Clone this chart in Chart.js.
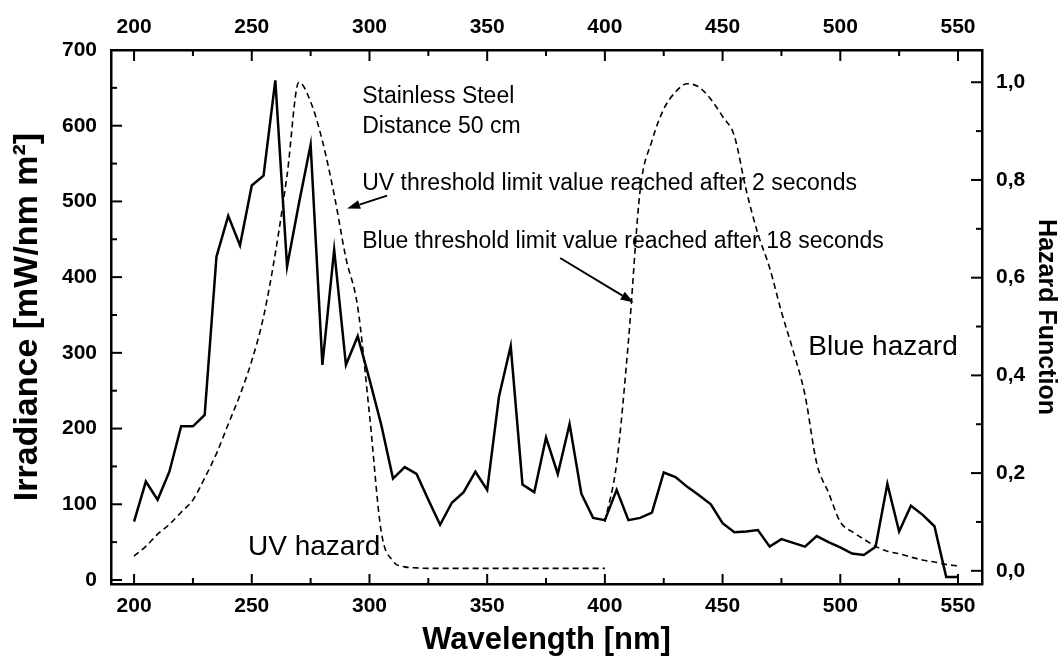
<!DOCTYPE html>
<html><head><meta charset="utf-8">
<script src="https://cdn.jsdelivr.net/npm/chart.js@4.4.1/dist/chart.umd.min.js"></script>
<style>html,body{margin:0;padding:0;background:#fff}#wrap{width:1062px;height:665px}</style>
</head><body><div id="wrap"><canvas id="c" width="1062" height="665"></canvas></div>
<script>
// ---- data ----
const wavelengths = [200,205,210,215,220,225,230,235,240,245,250,255,260,265,270,275,280,285,290,295,
  300,305,310,315,320,325,330,335,340,345,350,355,360,365,370,375,380,385,390,395,
  400,405,410,415,420,425,430,435,440,445,450,455,460,465,470,475,480,485,490,495,
  500,505,510,515,520,525,530,535,540,545,550];
const irradiance = [77,130,106,143,203,203,218,427,481,442,521,534,660,414,497,575,284,436,284,322,
  265,205,134,149,140,106,73,102,116,143,119,242,309,126,116,188,140,206,114,82,
  79,119,79,82,89,142,136,123,112,100,75,63,64,66,44,54,49,44,58,50,
  43,35,33,44,127,64,98,86,71,4,4];
const uvWavelengths = [200,205,210,215,220,225,230,235,240,245,250,255,260,265,270,275,280,285,290,295,
  300,305,310,315,320,325,330,335,340,345,350,355,360,365,370,375,380,385,390,395,400];
const uvHazard = [0.03,0.05,0.075,0.095,0.12,0.145,0.19,0.24,0.30,0.36,0.43,0.52,0.65,0.81,1.0,0.96,0.88,0.77,0.64,0.54,
  0.32,0.08,0.02,0.008,0.006,0.005,0.005,0.005,0.005,0.005,0.005,0.005,0.005,0.005,0.005,0.005,0.005,0.005,0.005,0.005,0.005];
const blueWavelengths = [400,405,410,415,420,425,430,435,440,445,450,455,460,465,470,475,480,485,490,495,
  500,505,510,515,520,525,530,535,540,545,550];
const blueHazard = [0.10,0.22,0.47,0.78,0.88,0.945,0.98,0.997,0.99,0.965,0.93,0.89,0.78,0.69,0.62,0.53,0.45,0.36,0.22,0.16,
  0.10,0.08,0.065,0.05,0.04,0.035,0.028,0.022,0.018,0.013,0.01];
const xMajorTicks = [200,250,300,350,400,450,500,550];
const xMinorTicks = [225,275,325,375,425,475,525];
const yMajorTicks = [0,100,200,300,400,500,600,700];
const yMinorTicks = [50,150,250,350,450,550,650];
const y2MajorTicks = [0,0.2,0.4,0.6,0.8,1.0];
const y2MinorTicks = [0.1,0.3,0.5,0.7,0.9];

// annotation texts (data coordinates: wavelength, irradiance)
const notes = [
  {text:'Stainless Steel', x:296.9, y:638.5, size:23},
  {text:'Distance 50 cm', x:296.9, y:599, size:23},
  {text:'UV threshold limit value reached after 2 seconds', x:296.9, y:523.5, size:23},
  {text:'Blue threshold limit value reached after 18 seconds', x:296.9, y:447, size:23},
  {text:'Blue hazard', x:486.4, y:306.7, size:28},
  {text:'UV hazard', x:248.4, y:43.6, size:28}
];
const arrows = [
  {x1:307.5, y1:507.7, x2:290.5, y2:490.5},
  {x1:381.0, y1:425.3, x2:412.2, y2:366.6}
];

const FONT = "'Liberation Sans', Arial, sans-serif";
const zip = (xs, ys) => xs.map((x, i) => ({x, y: ys[i]}));
const fmtComma = v => v.toFixed(1).replace('.', ',');
const setTicks = arr => (s => { s.ticks = arr.map(v => ({value: v})); });

const overlay = {
  id: 'overlay',
  afterDatasetsDraw(chart) {
    const ctx = chart.ctx;
    const {x, x2, y, y2} = chart.scales;
    const a = chart.chartArea;
    ctx.save();
    ctx.strokeStyle = '#000';
    ctx.fillStyle = '#000';
    ctx.lineWidth = 2;
    ctx.lineCap = 'butt';
    const tick = (x1, y1, x2_, y2_) => { ctx.beginPath(); ctx.moveTo(x1, y1); ctx.lineTo(x2_, y2_); ctx.stroke(); };
    xMajorTicks.forEach(v => { const p = x.getPixelForValue(v); tick(p, a.bottom, p, a.bottom - 10); });
    xMinorTicks.forEach(v => { const p = x.getPixelForValue(v); tick(p, a.bottom, p, a.bottom - 6); });
    xMajorTicks.forEach(v => { const p = x2.getPixelForValue(v); tick(p, a.top, p, a.top + 11); });
    xMinorTicks.forEach(v => { const p = x2.getPixelForValue(v); tick(p, a.top, p, a.top + 6); });
    yMajorTicks.forEach(v => { const p = y.getPixelForValue(v); tick(a.left, p, a.left + 11, p); });
    yMinorTicks.forEach(v => { const p = y.getPixelForValue(v); tick(a.left, p, a.left + 6, p); });
    y2MajorTicks.forEach(v => { const p = y2.getPixelForValue(v); tick(a.right, p, a.right - 11, p); });
    y2MinorTicks.forEach(v => { const p = y2.getPixelForValue(v); tick(a.right, p, a.right - 6, p); });

    // annotation text
    ctx.textAlign = 'left';
    ctx.textBaseline = 'middle';
    notes.forEach(n => {
      ctx.font = n.size + 'px ' + FONT;
      ctx.fillText(n.text, x.getPixelForValue(n.x), y.getPixelForValue(n.y));
    });
    // arrows
    ctx.lineWidth = 2;
    arrows.forEach(ar => {
      const sx = x.getPixelForValue(ar.x1), sy = y.getPixelForValue(ar.y1);
      const ex = x.getPixelForValue(ar.x2), ey = y.getPixelForValue(ar.y2);
      const ang = Math.atan2(ey - sy, ex - sx);
      const L = 13, W = 4.5;
      const bx = ex - L * Math.cos(ang), by = ey - L * Math.sin(ang);
      tick(sx, sy, bx, by);
      ctx.beginPath();
      ctx.moveTo(ex, ey);
      ctx.lineTo(bx + W * Math.sin(ang), by - W * Math.cos(ang));
      ctx.lineTo(bx - W * Math.sin(ang), by + W * Math.cos(ang));
      ctx.closePath();
      ctx.fill();
    });
    ctx.restore();
  }
};

const tickFont = {family: FONT, size: 21, weight: 'bold'};
const borderOpt = {display: true, color: '#000', width: 2.5};

new Chart(document.getElementById('c'), {
  type: 'line',
  data: {
    datasets: [
      {label: 'Irradiance', data: zip(wavelengths, irradiance), xAxisID: 'x', yAxisID: 'y',
       borderColor: '#000', borderWidth: 2.5, pointRadius: 0, tension: 0, fill: false},
      {label: 'UV hazard', data: zip(uvWavelengths, uvHazard), xAxisID: 'x', yAxisID: 'y2',
       borderColor: '#000', borderWidth: 1.6, borderDash: [6, 4], pointRadius: 0, cubicInterpolationMode: 'monotone', fill: false},
      {label: 'Blue hazard', data: zip(blueWavelengths, blueHazard), xAxisID: 'x', yAxisID: 'y2',
       borderColor: '#000', borderWidth: 1.6, borderDash: [6, 4], pointRadius: 0, cubicInterpolationMode: 'monotone', fill: false}
    ]
  },
  options: {
    responsive: false,
    animation: false,
    layout: {padding: 0},
    plugins: {legend: {display: false}, tooltip: {enabled: false}},
    scales: {
      x: {type: 'linear', position: 'bottom', min: 190.2, max: 560.2,
        afterFit(s) { s.height = 81; },
        afterBuildTicks: setTicks(xMajorTicks),
        grid: {display: false, drawTicks: false}, border: borderOpt,
        ticks: {padding: 10, color: '#000', font: tickFont, maxRotation: 0, autoSkip: false},
        title: {display: true, text: 'Wavelength [nm]', color: '#000',
          font: {family: FONT, size: 31, weight: 'bold', lineHeight: 1}, padding: {top: 0, bottom: 9}}
      },
      x2: {type: 'linear', position: 'top', min: 190.2, max: 560.2,
        afterFit(s) { s.height = 50; },
        afterBuildTicks: setTicks(xMajorTicks),
        grid: {display: false, drawTicks: false}, border: borderOpt,
        ticks: {padding: 10, color: '#000', font: tickFont, maxRotation: 0, autoSkip: false}
      },
      y: {type: 'linear', position: 'left', min: -5.3, max: 700,
        afterFit(s) { s.width = 111; },
        afterBuildTicks: setTicks(yMajorTicks),
        grid: {display: false, drawTicks: false}, border: borderOpt,
        ticks: {padding: 14, color: '#000', font: tickFont, autoSkip: false},
        title: {display: true, text: 'Irradiance [mW/nm m\u00B2]', color: '#000',
          font: {family: FONT, size: 34, weight: 'bold', lineHeight: 1}, padding: {top: 11, bottom: 0}}
      },
      y2: {type: 'linear', position: 'right', min: -0.027, max: 1.066,
        afterFit(s) { s.width = 80; },
        afterBuildTicks: setTicks(y2MajorTicks),
        grid: {display: false, drawTicks: false}, border: borderOpt,
        ticks: {padding: 14, color: '#000', font: tickFont, autoSkip: false, callback: v => fmtComma(v)},
        title: {display: true, text: 'Hazard Function', color: '#000',
          font: {family: FONT, size: 25, weight: 'bold', lineHeight: 1}, padding: {top: 4, bottom: 0}}
      }
    }
  },
  plugins: [overlay]
});
</script>
</body></html>
